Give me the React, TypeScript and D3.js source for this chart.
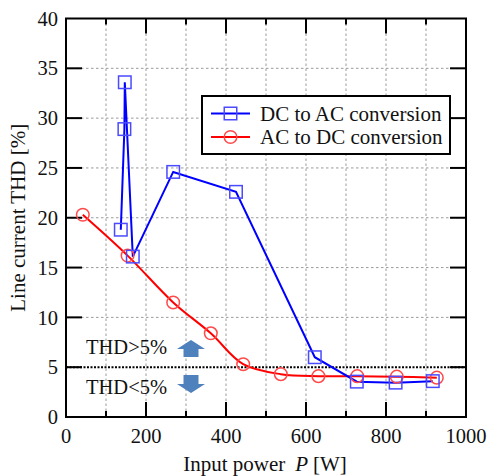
import React from "react";
import * as d3 from "d3";

const dcPower = [137, 146, 147, 167, 268, 425, 622, 727, 824, 917];
const dcTHD = [18.8, 28.9, 33.6, 16.1, 24.6, 22.6, 6.0, 3.55, 3.45, 3.6];
const acPower = [42, 154, 268, 362, 443, 537, 631, 728, 827, 927];
const acTHD = [20.3, 16.2, 11.5, 8.4, 5.3, 4.3, 4.1, 4.1, 4.05, 3.95];
const xTicks = [0, 200, 400, 600, 800, 1000];
const xGrid = [100, 200, 300, 400, 500, 600, 700, 800, 900];
const yTicks = [0, 5, 10, 15, 20, 25, 30, 35, 40];
const seriesNames = ["DC to AC conversion", "AC to DC conversion"];
const threshold = 5;

const W = 488, H = 476;
const L = 66, R = 466, T = 18.5, B = 417;
const FONT = "'Liberation Serif', 'Times New Roman', serif";

export default function App() {
  const x = d3.scaleLinear().domain([0, 1000]).range([L, R]);
  const y = d3.scaleLinear().domain([0, 40]).range([B, T]);

  const dc = dcPower.map((p, i) => [p, dcTHD[i]] as [number, number]);
  const ac = acPower.map((p, i) => [p, acTHD[i]] as [number, number]);

  const dcLine = d3.line<[number, number]>().x(d => x(d[0])).y(d => y(d[1]))(dc) || "";
  const acLine = d3.line<[number, number]>().x(d => x(d[0])).y(d => y(d[1])).curve(d3.curveCatmullRom.alpha(0.5))(ac) || "";

  const blue = "#0000ff";
  const blueM = "#4a4aff";
  const red = "#ff0000";
  const redM = "#ff4a4a";
  const arrowC = "#4f81bd";

  const sq = 12.5;
  const cr = 6.3;

  const minorX = [100, 300, 500, 700, 900];
  const majorX = [200, 400, 600, 800];
  const yInner = [5, 10, 15, 20, 25, 30, 35];

  const upArrow = (cx: number, top: number) =>
    `M${cx},${top} L${cx + 14},${top + 9} L${cx + 7.5},${top + 9} L${cx + 7.5},${top + 17} L${cx - 7.5},${top + 17} L${cx - 7.5},${top + 9} L${cx - 14},${top + 9} Z`;
  const downArrow = (cx: number, top: number) =>
    `M${cx - 7.5},${top} L${cx + 7.5},${top} L${cx + 7.5},${top + 9} L${cx + 14},${top + 9} L${cx},${top + 18} L${cx - 14},${top + 9} L${cx - 7.5},${top + 9} Z`;

  return (
    <svg width={W} height={H} style={{ position: "absolute", left: 0, top: 0, background: "#fff" }} fontFamily={FONT}>
      <rect x={0} y={0} width={W} height={H} fill="#fff" />
      {/* grid */}
      {xGrid.map(v => (
        <line key={"gx" + v} x1={x(v)} x2={x(v)} y1={T} y2={B} stroke="#9a9a9a" strokeWidth={1} strokeDasharray="2.5,2.5" />
      ))}
      {yInner.filter(v => v !== threshold).map(v => (
        <line key={"gy" + v} x1={L} x2={R} y1={y(v)} y2={y(v)} stroke="#9a9a9a" strokeWidth={1} strokeDasharray="2.5,2.5" />
      ))}
      {/* threshold line */}
      <line x1={L} x2={R} y1={y(threshold)} y2={y(threshold)} stroke="#000" strokeWidth={2} strokeDasharray="2,1.5" />

      {/* ticks */}
      {majorX.map(v => (
        <g key={"mx" + v}>
          <line x1={x(v)} x2={x(v)} y1={B} y2={B - 15} stroke="#000" strokeWidth={2} />
          <line x1={x(v)} x2={x(v)} y1={T} y2={T + 15} stroke="#000" strokeWidth={2} />
        </g>
      ))}
      {minorX.map(v => (
        <g key={"nx" + v}>
          <line x1={x(v)} x2={x(v)} y1={B} y2={B - 6} stroke="#000" strokeWidth={2} />
          <line x1={x(v)} x2={x(v)} y1={T} y2={T + 6} stroke="#000" strokeWidth={2} />
        </g>
      ))}
      {yInner.map(v => (
        <g key={"ty" + v}>
          <line x1={L} x2={L + 16} y1={y(v)} y2={y(v)} stroke="#000" strokeWidth={2} />
          <line x1={R} x2={R - 16} y1={y(v)} y2={y(v)} stroke="#000" strokeWidth={2} />
        </g>
      ))}

      {/* series */}
      <path d={acLine} fill="none" stroke={red} strokeWidth={2} />
      <path d={dcLine} fill="none" stroke={blue} strokeWidth={2} />
      {ac.map((d, i) => (
        <circle key={"ac" + i} cx={x(d[0])} cy={y(d[1])} r={cr} fill="none" stroke={redM} strokeWidth={1.5} />
      ))}
      {dc.map((d, i) => (
        <rect key={"dc" + i} x={x(d[0]) - sq / 2} y={y(d[1]) - sq / 2} width={sq} height={sq} fill="none" stroke={blueM} strokeWidth={1.5} />
      ))}

      {/* frame */}
      <rect x={L} y={T} width={R - L} height={B - T} fill="none" stroke="#000" strokeWidth={2} />

      {/* tick labels */}
      {yTicks.map(v => (
        <text key={"yl" + v} x={58} y={y(v)} dy="0.35em" textAnchor="end" fontSize={20.5} fill="#111">{v}</text>
      ))}
      {xTicks.map(v => (
        <text key={"xl" + v} x={x(v)} y={443} textAnchor="middle" fontSize={20.5} fill="#111">{v}</text>
      ))}

      {/* axis titles */}
      <text x={(L + R) / 2 - 1} y={471} textAnchor="middle" fontSize={21} fill="#111">
        Input power<tspan dx={10} fontStyle="italic">P</tspan><tspan dx={5}>[W]</tspan>
      </text>
      <text transform={`translate(25,${(T + B) / 2}) rotate(-90)`} textAnchor="middle" fontSize={21} fill="#111">
        Line current THD [%]
      </text>

      {/* legend */}
      <rect x={202} y={96} width={248} height={58} fill="#fff" stroke="#000" strokeWidth={2} />
      <line x1={211} x2={250} y1={113.5} y2={113.5} stroke={blue} strokeWidth={2} />
      <rect x={230.5 - sq / 2} y={113.5 - sq / 2} width={sq} height={sq} fill="none" stroke={blueM} strokeWidth={1.5} />
      <text x={260} y={113.5} dy="0.35em" fontSize={21} fill="#111">{seriesNames[0]}</text>
      <line x1={211} x2={250} y1={137} y2={137} stroke={red} strokeWidth={2} />
      <circle cx={230.5} cy={137} r={cr} fill="none" stroke={redM} strokeWidth={1.5} />
      <text x={260} y={137} dy="0.35em" fontSize={21} fill="#111">{seriesNames[1]}</text>

      {/* annotations */}
      <text x={86} y={354} fontSize={20.5} fill="#111">THD&gt;5%</text>
      <path d={upArrow(191, 340)} fill={arrowC} />
      <text x={86} y={394} fontSize={20.5} fill="#111">THD&lt;5%</text>
      <path d={downArrow(191, 375)} fill={arrowC} />
    </svg>
  );
}
